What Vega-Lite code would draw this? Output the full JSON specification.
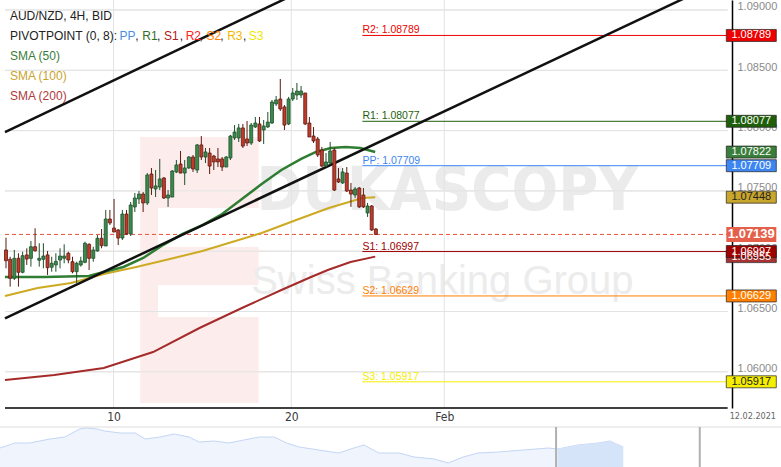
{
  "$schema": "https://vega.github.io/schema/vega-lite/v6.json",
  "width": 781,
  "height": 467,
  "padding": 0,
  "autosize": {"type": "none"},
  "background": "white",
  "config": {"view": {"stroke": null}, "font": "Liberation Sans", "text": {"font": "Liberation Sans"}, "axis": {"grid": false}},
  "resolve": {"scale": {"x": "independent", "y": "independent"}},
  "datasets": {
    "candles": [
      {"i":0,"o":1.07010,"h":1.07112,"l":1.06858,"c":1.06921},
      {"i":1,"o":1.06933,"h":1.06954,"l":1.06706,"c":1.06775},
      {"i":2,"o":1.06775,"h":1.07010,"l":1.06761,"c":1.06941},
      {"i":3,"o":1.06941,"h":1.06983,"l":1.06706,"c":1.06825},
      {"i":4,"o":1.06825,"h":1.06996,"l":1.06817,"c":1.06963},
      {"i":5,"o":1.06969,"h":1.07024,"l":1.06886,"c":1.06935},
      {"i":6,"o":1.06941,"h":1.07085,"l":1.06872,"c":1.07037},
      {"i":7,"o":1.07037,"h":1.07190,"l":1.06996,"c":1.07004},
      {"i":8,"o":1.06925,"h":1.07066,"l":1.06872,"c":1.06941},
      {"i":9,"o":1.06933,"h":1.07066,"l":1.06858,"c":1.06960},
      {"i":10,"o":1.06969,"h":1.07002,"l":1.06803,"c":1.06863},
      {"i":11,"o":1.06867,"h":1.06954,"l":1.06830,"c":1.06900},
      {"i":12,"o":1.06886,"h":1.06983,"l":1.06830,"c":1.06916},
      {"i":13,"o":1.06927,"h":1.07024,"l":1.06858,"c":1.06960},
      {"i":14,"o":1.06941,"h":1.07057,"l":1.06900,"c":1.06960},
      {"i":15,"o":1.06983,"h":1.06996,"l":1.06900,"c":1.06927},
      {"i":16,"o":1.06913,"h":1.06954,"l":1.06817,"c":1.06830},
      {"i":17,"o":1.06830,"h":1.06913,"l":1.06734,"c":1.06900},
      {"i":18,"o":1.06886,"h":1.06954,"l":1.06872,"c":1.06919},
      {"i":19,"o":1.06908,"h":1.07079,"l":1.06900,"c":1.07066},
      {"i":20,"o":1.07057,"h":1.07066,"l":1.06844,"c":1.06941},
      {"i":21,"o":1.06941,"h":1.07037,"l":1.06913,"c":1.07010},
      {"i":22,"o":1.07002,"h":1.07134,"l":1.06996,"c":1.07107},
      {"i":23,"o":1.07107,"h":1.07184,"l":1.07024,"c":1.07046},
      {"i":24,"o":1.07043,"h":1.07342,"l":1.07043,"c":1.07267},
      {"i":25,"o":1.07267,"h":1.07342,"l":1.07217,"c":1.07234},
      {"i":26,"o":1.07192,"h":1.07433,"l":1.07159,"c":1.07159},
      {"i":27,"o":1.07176,"h":1.07184,"l":1.07051,"c":1.07109},
      {"i":28,"o":1.07109,"h":1.07342,"l":1.07093,"c":1.07308},
      {"i":29,"o":1.07308,"h":1.07342,"l":1.07134,"c":1.07143},
      {"i":30,"o":1.07143,"h":1.07408,"l":1.07126,"c":1.07383},
      {"i":31,"o":1.07367,"h":1.07483,"l":1.07325,"c":1.07441},
      {"i":32,"o":1.07433,"h":1.07499,"l":1.07391,"c":1.07474},
      {"i":33,"o":1.07474,"h":1.07491,"l":1.07325,"c":1.07400},
      {"i":34,"o":1.07400,"h":1.07648,"l":1.07383,"c":1.07632},
      {"i":35,"o":1.07640,"h":1.07690,"l":1.07466,"c":1.07524},
      {"i":36,"o":1.07516,"h":1.07673,"l":1.07449,"c":1.07541},
      {"i":37,"o":1.07532,"h":1.07765,"l":1.07507,"c":1.07599},
      {"i":38,"o":1.07607,"h":1.07615,"l":1.07433,"c":1.07441},
      {"i":39,"o":1.07441,"h":1.07507,"l":1.07367,"c":1.07466},
      {"i":40,"o":1.07449,"h":1.07673,"l":1.07449,"c":1.07665},
      {"i":41,"o":1.07657,"h":1.07756,"l":1.07648,"c":1.07715},
      {"i":42,"o":1.07723,"h":1.07831,"l":1.07648,"c":1.07648},
      {"i":43,"o":1.07648,"h":1.07756,"l":1.07549,"c":1.07690},
      {"i":44,"o":1.07690,"h":1.07789,"l":1.07682,"c":1.07781},
      {"i":45,"o":1.07781,"h":1.07798,"l":1.07657,"c":1.07682},
      {"i":46,"o":1.07673,"h":1.07889,"l":1.07648,"c":1.07881},
      {"i":47,"o":1.07881,"h":1.07955,"l":1.07756,"c":1.07781},
      {"i":48,"o":1.07781,"h":1.07856,"l":1.07731,"c":1.07823},
      {"i":49,"o":1.07814,"h":1.07856,"l":1.07640,"c":1.07706},
      {"i":50,"o":1.07789,"h":1.07798,"l":1.07673,"c":1.07740},
      {"i":51,"o":1.07765,"h":1.07856,"l":1.07698,"c":1.07740},
      {"i":52,"o":1.07765,"h":1.07781,"l":1.07665,"c":1.07698},
      {"i":53,"o":1.07698,"h":1.07789,"l":1.07698,"c":1.07781},
      {"i":54,"o":1.07773,"h":1.07964,"l":1.07756,"c":1.07955},
      {"i":55,"o":1.07939,"h":1.08046,"l":1.07922,"c":1.07988},
      {"i":56,"o":1.07939,"h":1.08055,"l":1.07906,"c":1.08022},
      {"i":57,"o":1.08022,"h":1.08055,"l":1.07856,"c":1.07872},
      {"i":58,"o":1.07930,"h":1.08080,"l":1.07872,"c":1.07897},
      {"i":59,"o":1.07897,"h":1.08063,"l":1.07881,"c":1.08046},
      {"i":60,"o":1.08030,"h":1.08113,"l":1.08022,"c":1.08063},
      {"i":61,"o":1.08055,"h":1.08113,"l":1.07906,"c":1.07914},
      {"i":62,"o":1.08005,"h":1.08088,"l":1.07889,"c":1.08038},
      {"i":63,"o":1.08030,"h":1.08154,"l":1.08022,"c":1.08071},
      {"i":64,"o":1.08063,"h":1.08254,"l":1.08055,"c":1.08237},
      {"i":65,"o":1.08221,"h":1.08287,"l":1.08204,"c":1.08254},
      {"i":66,"o":1.08262,"h":1.08428,"l":1.08163,"c":1.08179},
      {"i":67,"o":1.08196,"h":1.08212,"l":1.08005,"c":1.08046},
      {"i":68,"o":1.08055,"h":1.08279,"l":1.08046,"c":1.08262},
      {"i":69,"o":1.08262,"h":1.08353,"l":1.08245,"c":1.08312},
      {"i":70,"o":1.08295,"h":1.08395,"l":1.08254,"c":1.08328},
      {"i":71,"o":1.08295,"h":1.08370,"l":1.08270,"c":1.08328},
      {"i":72,"o":1.08312,"h":1.08312,"l":1.08046,"c":1.08055},
      {"i":73,"o":1.08063,"h":1.08113,"l":1.07947,"c":1.07947},
      {"i":74,"o":1.07955,"h":1.08030,"l":1.07897,"c":1.07914},
      {"i":75,"o":1.07930,"h":1.07947,"l":1.07781,"c":1.07798},
      {"i":76,"o":1.07839,"h":1.07864,"l":1.07698,"c":1.07706},
      {"i":77,"o":1.07706,"h":1.07814,"l":1.07698,"c":1.07740},
      {"i":78,"o":1.07731,"h":1.07906,"l":1.07715,"c":1.07831},
      {"i":79,"o":1.07839,"h":1.07856,"l":1.07499,"c":1.07507},
      {"i":80,"o":1.07599,"h":1.07690,"l":1.07566,"c":1.07574},
      {"i":81,"o":1.07566,"h":1.07690,"l":1.07557,"c":1.07657},
      {"i":82,"o":1.07648,"h":1.07698,"l":1.07491,"c":1.07499},
      {"i":83,"o":1.07507,"h":1.07566,"l":1.07367,"c":1.07474},
      {"i":84,"o":1.07466,"h":1.07532,"l":1.07441,"c":1.07516},
      {"i":85,"o":1.07524,"h":1.07532,"l":1.07358,"c":1.07367},
      {"i":86,"o":1.07466,"h":1.07524,"l":1.07358,"c":1.07367},
      {"i":87,"o":1.07317,"h":1.07400,"l":1.07284,"c":1.07375},
      {"i":88,"o":1.07375,"h":1.07383,"l":1.07168,"c":1.07176},
      {"i":89,"o":1.07184,"h":1.07192,"l":1.07134,"c":1.07139}
    ],
    "sma50": [
      {"i":-0.24,"v":1.06786},{"i":9.26,"v":1.06786},{"i":19.95,"v":1.06794},{"i":23.52,"v":1.06828},
      {"i":28.27,"v":1.06869},{"i":33.02,"v":1.06944},{"i":37.77,"v":1.07051},{"i":42.52,"v":1.07143},
      {"i":47.27,"v":1.07217},{"i":52.02,"v":1.07308},{"i":56.77,"v":1.07433},{"i":61.52,"v":1.07557},
      {"i":66.27,"v":1.07673},{"i":71.02,"v":1.07765},{"i":74.58,"v":1.07823},{"i":78.15,"v":1.07856},
      {"i":81.71,"v":1.07864},{"i":85.27,"v":1.07856},{"i":88.84,"v":1.07822}
    ],
    "sma100": [
      {"i":-0.24,"v":1.06629},{"i":7.6,"v":1.06695},{"i":15.68,"v":1.06736},{"i":23.52,"v":1.06811},
      {"i":31.35,"v":1.06869},{"i":39.43,"v":1.06935},{"i":47.27,"v":1.07002},{"i":54.39,"v":1.07076},
      {"i":61.52,"v":1.07151},{"i":69.83,"v":1.07259},{"i":77.67,"v":1.07358},{"i":85.75,"v":1.07441},
      {"i":88.84,"v":1.07448}
    ],
    "sma200": [
      {"i":-0.24,"v":1.05932},{"i":11.64,"v":1.05974},{"i":23.52,"v":1.06032},{"i":35.39,"v":1.06164},
      {"i":46.56,"v":1.06363},{"i":56.77,"v":1.06529},{"i":66.27,"v":1.06678},{"i":73.4,"v":1.06786},
      {"i":77.43,"v":1.06844},{"i":82.9,"v":1.06910},{"i":88.84,"v":1.06955}
    ],
    "channel": [
      {"i":-0.2375,"p":1.079875,"i2":71.02,"p2":1.091557},
      {"i":-0.2375,"p":1.064436,"i2":173.63,"p2":1.092662}
    ],
    "pivots": [
      {"name":"R2","price":1.08789},{"name":"R1","price":1.08077},{"name":"PP","price":1.07709},
      {"name":"S1","price":1.06997},{"name":"S2","price":1.06629},{"name":"S3","price":1.05917}
    ],
    "levels": [
      {"name":"R2","price":1.08789},{"name":"R1","price":1.08077},{"name":"SMA50","price":1.07822},
      {"name":"PP","price":1.07709},{"name":"SMA100","price":1.07448},{"name":"SMA200","price":1.06955},
      {"name":"S1","price":1.06997},{"name":"S2","price":1.06629},{"name":"S3","price":1.05917}
    ],
    "hgrid": [{"p":1.06},{"p":1.065},{"p":1.07},{"p":1.075},{"p":1.08},{"p":1.085},{"p":1.09}],
    "vgrid": [{"i":25.89},{"i":68.65},{"i":105.46}],
    "nav": [
      {"t":0,"v":19},{"t":1.9,"v":24},{"t":3.8,"v":24},{"t":6.4,"v":28},{"t":8.3,"v":30},{"t":10.2,"v":38},
      {"t":11.1,"v":39},{"t":12.4,"v":38},{"t":13.4,"v":36},{"t":15.4,"v":34},{"t":17.3,"v":34},{"t":18.6,"v":28},
      {"t":20.5,"v":30},{"t":22.3,"v":33},{"t":24.2,"v":30},{"t":25.5,"v":25},{"t":27.4,"v":26},{"t":29.3,"v":24},
      {"t":31.2,"v":27},{"t":33.2,"v":30},{"t":35.1,"v":30},{"t":36.7,"v":24},{"t":38.3,"v":20},{"t":40.8,"v":17},
      {"t":43.4,"v":14},{"t":45.3,"v":19},{"t":46.6,"v":22},{"t":48.5,"v":14},{"t":51.1,"v":14},{"t":53,"v":10},
      {"t":55.6,"v":8},{"t":57.4,"v":4},{"t":59.3,"v":10},{"t":61.2,"v":14},{"t":63.8,"v":15},{"t":67,"v":17},
      {"t":70.2,"v":19},{"t":71.4,"v":18},{"t":74,"v":22},{"t":76.6,"v":24},{"t":78.1,"v":26},{"t":79.8,"v":20}
    ]
  },
  "layer": [
    {
      "layer": [
        {
          "data": {"name": "nav"},
          "mark": {"type": "area", "color": "#e9f0fc", "line": {"color": "#c3d6f5", "strokeWidth": 1}},
          "encoding": {
            "x": {"field": "t", "type": "quantitative", "scale": {"domain": [0, 100], "nice": false, "zero": false}, "axis": null},
            "y": {"field": "v", "type": "quantitative", "scale": {"domain": [0, 40], "range": [467, 427], "nice": false, "zero": false}, "axis": null}
          }
        },
        {
          "data": {"name": "nav"},
          "transform": [{"filter": "datum.t >= 71.4"}],
          "mark": {"type": "area", "color": "#d6e4fa"},
          "encoding": {"x": {"field": "t", "type": "quantitative", "axis": null}, "y": {"field": "v", "type": "quantitative", "axis": null}}
        },
        {
          "data": {"values": [{}]},
          "mark": {"type": "rule", "color": "#dddddd", "strokeWidth": 1},
          "encoding": {"y": {"datum": 40, "axis": null}, "x": {"datum": 0, "axis": null}, "x2": {"datum": 100}}
        },
        {
          "data": {"values": [{}]},
          "mark": {"type": "rule", "color": "#b0b0b0", "strokeWidth": 2},
          "encoding": {"x": {"datum": 71.2, "axis": null}, "y": {"datum": 0, "axis": null}, "y2": {"datum": 40}}
        },
        {
          "data": {"values": [{}]},
          "mark": {"type": "rule", "color": "#b0b0b0", "strokeWidth": 2},
          "encoding": {"x": {"datum": 89.6, "axis": null}, "y": {"datum": 0, "axis": null}, "y2": {"datum": 40}}
        }
      ]
    },
    {
      "layer": [
        {
          "data": {"name": "hgrid"},
          "mark": {"type": "rule", "color": "#e3e3e3", "strokeWidth": 1},
          "encoding": {
            "y": {"field": "p", "type": "quantitative", "title": null,
                  "scale": {"domain": [1.056998, 1.090829], "range": [408, 0], "nice": false, "zero": false},
                  "axis": {"orient": "right", "offset": -49, "values": [1.06,1.065,1.07,1.075,1.08,1.085,1.09], "format": ".5f",
                           "grid": false, "ticks": false, "domain": true, "domainColor": "#000000", "domainWidth": 1.5,
                           "labelColor": "#8a8a8a", "labelFontSize": 11, "labelPadding": 5, "labelOffset": -3, "labelFont": "Liberation Sans", "title": null}},
            "x": {"datum": -0.2375, "type": "quantitative", "title": null,
                  "scale": {"domain": [-0.2375, 185.27], "nice": false, "zero": false},
                  "axis": {"orient": "bottom", "offset": -59, "values": [25.89, 68.65, 105.46, 179.57],
                           "labelExpr": "datum.value < 30 ? '10' : datum.value < 80 ? '20' : datum.value < 120 ? 'Feb' : '12.02.2021'",
                           "grid": false, "ticks": false, "domain": false, "labelColor": {"condition": {"test": "datum.value > 150", "value": "#666666"}, "value": "#3a3a3a"}, "labelFlush": false,
                           "labelFontSize": {"condition": {"test": "datum.value > 150", "value": 9}, "value": 12},
                           "labelFont": "DejaVu Sans Condensed", "labelPadding": 3, "title": null}},
            "x2": {"datum": 173.63}
          }
        },
        {
          "data": {"values": [{}]},
          "mark": {"type": "rect", "color": "#fcedec"},
          "encoding": {"x": {"datum": 32.3}, "x2": {"datum": 60.8}, "y": {"datum": 1.07947}, "y2": {"datum": 1.07358}}
        },
        {
          "data": {"values": [{}]},
          "mark": {"type": "rect", "color": "#fcedec"},
          "encoding": {"x": {"datum": 32.3}, "x2": {"datum": 36.58}, "y": {"datum": 1.07358}, "y2": {"datum": 1.05741}}
        },
        {
          "data": {"values": [{}]},
          "mark": {"type": "rect", "color": "#fcedec"},
          "encoding": {"x": {"datum": 36.58}, "x2": {"datum": 60.8}, "y": {"datum": 1.07035}, "y2": {"datum": 1.06720}}
        },
        {
          "data": {"values": [{}]},
          "mark": {"type": "rect", "color": "#fcedec"},
          "encoding": {"x": {"datum": 36.58}, "x2": {"datum": 60.8}, "y": {"datum": 1.06454}, "y2": {"datum": 1.05741}}
        },
        {
          "data": {"values": [{}]},
          "mark": {"type": "text", "fontSize": 61, "fontWeight": "bold", "font": "DejaVu Sans Condensed", "color": "#ebebeb", "align": "center", "baseline": "middle"},
          "encoding": {"x": {"datum": 106.2}, "y": {"datum": 1.07491}, "text": {"value": "DUKASCOPY"}}
        },
        {
          "data": {"values": [{}]},
          "mark": {"type": "text", "fontSize": 40, "font": "Liberation Sans", "color": "#ececec", "align": "center", "baseline": "middle"},
          "encoding": {"x": {"datum": 105}, "y": {"datum": 1.06745}, "text": {"value": "Swiss Banking Group"}}
        },
        {
          "data": {"name": "hgrid"},
          "mark": {"type": "rule", "color": "#e3e3e3", "strokeWidth": 1},
          "encoding": {"y": {"field": "p", "type": "quantitative"}, "x": {"datum": -0.2375}, "x2": {"datum": 173.63}}
        },
        {
          "data": {"name": "vgrid"},
          "mark": {"type": "rule", "color": "#e3e3e3", "strokeWidth": 1},
          "encoding": {"x": {"field": "i", "type": "quantitative"}, "y": {"datum": 1.090829}, "y2": {"datum": 1.056998}}
        },
        {
          "data": {"name": "pivots"},
          "mark": {"type": "rule", "strokeWidth": 1},
          "encoding": {
            "y": {"field": "price", "type": "quantitative"},
            "x": {"datum": 85.75}, "x2": {"datum": 173.63},
            "color": {"field": "name", "type": "nominal", "legend": null,
                      "scale": {"domain": ["R2","R1","SMA50","PP","SMA100","Last","S1","SMA200","S2","S3"],
                                "range": ["#ee0000","#1f5f0c","#3b7d3b","#3d86f2","#c9a62c","#e5604a","#9e0000","#a83232","#ff8000","#f5ee00"]}}
          }
        },
        {
          "data": {"name": "pivots"},
          "transform": [{"calculate": "datum.name + ': ' + format(datum.price, '.5f')", "as": "label"}],
          "mark": {"type": "text", "align": "left", "baseline": "alphabetic", "dy": -2, "fontSize": 10.5},
          "encoding": {
            "y": {"field": "price", "type": "quantitative"},
            "x": {"datum": 85.75},
            "text": {"field": "label"},
            "color": {"field": "name", "type": "nominal", "legend": null}
          }
        },
        {
          "data": {"values": [{}]},
          "mark": {"type": "rule", "color": "#e5533d", "strokeWidth": 1, "strokeDash": [4, 3]},
          "encoding": {"y": {"datum": 1.07139}, "x": {"datum": -0.2375}, "x2": {"datum": 173.63}}
        },
        {
          "data": {"name": "sma200"},
          "mark": {"type": "line", "color": "#a52a2a", "strokeWidth": 2},
          "encoding": {"x": {"field": "i", "type": "quantitative"}, "y": {"field": "v", "type": "quantitative"}}
        },
        {
          "data": {"name": "sma100"},
          "mark": {"type": "line", "color": "#cdaa22", "strokeWidth": 2},
          "encoding": {"x": {"field": "i", "type": "quantitative"}, "y": {"field": "v", "type": "quantitative"}}
        },
        {
          "data": {"name": "sma50"},
          "mark": {"type": "line", "color": "#2f7d32", "strokeWidth": 2.5},
          "encoding": {"x": {"field": "i", "type": "quantitative"}, "y": {"field": "v", "type": "quantitative"}}
        },
        {
          "data": {"name": "channel"},
          "mark": {"type": "rule", "color": "#111111", "strokeWidth": 2.5, "clip": true},
          "encoding": {
            "x": {"field": "i", "type": "quantitative"}, "y": {"field": "p", "type": "quantitative"},
            "x2": {"field": "i2"}, "y2": {"field": "p2"}
          }
        },
        {
          "data": {"name": "candles"},
          "mark": {"type": "rule", "strokeWidth": 1},
          "encoding": {
            "x": {"field": "i", "type": "quantitative"},
            "y": {"field": "l", "type": "quantitative"}, "y2": {"field": "h"},
            "color": {"condition": {"test": "datum.c >= datum.o", "value": "#1f4f2b"}, "value": "#5c1a10"}
          }
        },
        {
          "data": {"name": "candles"},
          "mark": {"type": "bar", "width": 3, "strokeWidth": 0.8},
          "encoding": {
            "x": {"field": "i", "type": "quantitative"},
            "y": {"field": "o", "type": "quantitative"}, "y2": {"field": "c"},
            "fill": {"condition": {"test": "datum.c >= datum.o", "value": "#3a8a4c"}, "value": "#c23b2a"},
            "stroke": {"condition": {"test": "datum.c >= datum.o", "value": "#1f4f2b"}, "value": "#5c1a10"}
          }
        },
        {
          "data": {"values": [{}]},
          "mark": {"type": "text", "align": "left", "baseline": "middle", "fontSize": 12, "color": "#222222"},
          "encoding": {"x": {"datum": 0.95}, "y": {"datum": 1.08953}, "text": {"value": "AUD/NZD, 4H, BID"}}
        },
        {
          "data": {"values": [{}]},
          "mark": {"type": "text", "align": "left", "baseline": "middle", "fontSize": 12, "color": "#222222"},
          "encoding": {"x": {"datum": 0.95}, "y": {"datum": 1.08787}, "text": {"value": "PIVOTPOINT (0, 8):"}}
        },
        {"data": {"values": [{}]}, "mark": {"type": "text", "align": "left", "baseline": "middle", "fontSize": 12, "color": "#4a90e2"},
         "encoding": {"x": {"datum": 27.32}, "y": {"datum": 1.08787}, "text": {"value": "PP"}}},
        {"data": {"values": [{}]}, "mark": {"type": "text", "align": "left", "baseline": "middle", "fontSize": 12, "color": "#222222"},
         "encoding": {"x": {"datum": 31.12}, "y": {"datum": 1.08787}, "text": {"value": ","}}},
        {"data": {"values": [{}]}, "mark": {"type": "text", "align": "left", "baseline": "middle", "fontSize": 12, "color": "#2f6f1f"},
         "encoding": {"x": {"datum": 32.78}, "y": {"datum": 1.08787}, "text": {"value": "R1"}}},
        {"data": {"values": [{}]}, "mark": {"type": "text", "align": "left", "baseline": "middle", "fontSize": 12, "color": "#222222"},
         "encoding": {"x": {"datum": 36.34}, "y": {"datum": 1.08787}, "text": {"value": ","}}},
        {"data": {"values": [{}]}, "mark": {"type": "text", "align": "left", "baseline": "middle", "fontSize": 12, "color": "#b02020"},
         "encoding": {"x": {"datum": 38.0}, "y": {"datum": 1.08787}, "text": {"value": "S1"}}},
        {"data": {"values": [{}]}, "mark": {"type": "text", "align": "left", "baseline": "middle", "fontSize": 12, "color": "#222222"},
         "encoding": {"x": {"datum": 41.8}, "y": {"datum": 1.08787}, "text": {"value": ","}}},
        {"data": {"values": [{}]}, "mark": {"type": "text", "align": "left", "baseline": "middle", "fontSize": 12, "color": "#ff2020"},
         "encoding": {"x": {"datum": 43.23}, "y": {"datum": 1.08787}, "text": {"value": "R2"}}},
        {"data": {"values": [{}]}, "mark": {"type": "text", "align": "left", "baseline": "middle", "fontSize": 12, "color": "#222222"},
         "encoding": {"x": {"datum": 46.56}, "y": {"datum": 1.08787}, "text": {"value": ","}}},
        {"data": {"values": [{}]}, "mark": {"type": "text", "align": "left", "baseline": "middle", "fontSize": 12, "color": "#ff8000"},
         "encoding": {"x": {"datum": 48.22}, "y": {"datum": 1.08787}, "text": {"value": "S2"}}},
        {"data": {"values": [{}]}, "mark": {"type": "text", "align": "left", "baseline": "middle", "fontSize": 12, "color": "#222222"},
         "encoding": {"x": {"datum": 51.54}, "y": {"datum": 1.08787}, "text": {"value": ","}}},
        {"data": {"values": [{}]}, "mark": {"type": "text", "align": "left", "baseline": "middle", "fontSize": 12, "color": "#f5b800"},
         "encoding": {"x": {"datum": 53.21}, "y": {"datum": 1.08787}, "text": {"value": "R3"}}},
        {"data": {"values": [{}]}, "mark": {"type": "text", "align": "left", "baseline": "middle", "fontSize": 12, "color": "#222222"},
         "encoding": {"x": {"datum": 57.0}, "y": {"datum": 1.08787}, "text": {"value": ","}}},
        {"data": {"values": [{}]}, "mark": {"type": "text", "align": "left", "baseline": "middle", "fontSize": 12, "color": "#f2e600"},
         "encoding": {"x": {"datum": 58.43}, "y": {"datum": 1.08787}, "text": {"value": "S3"}}},
        {"data": {"values": [{}]}, "mark": {"type": "text", "align": "left", "baseline": "middle", "fontSize": 12, "color": "#3a7d3a"},
         "encoding": {"x": {"datum": 0.95}, "y": {"datum": 1.08621}, "text": {"value": "SMA (50)"}}},
        {"data": {"values": [{}]}, "mark": {"type": "text", "align": "left", "baseline": "middle", "fontSize": 12, "color": "#c9a42a"},
         "encoding": {"x": {"datum": 0.95}, "y": {"datum": 1.08455}, "text": {"value": "SMA (100)"}}},
        {"data": {"values": [{}]}, "mark": {"type": "text", "align": "left", "baseline": "middle", "fontSize": 12, "color": "#b03a3a"},
         "encoding": {"x": {"datum": 0.95}, "y": {"datum": 1.08289}, "text": {"value": "SMA (200)"}}},
        {
          "data": {"values": [{}]},
          "mark": {"type": "rule", "color": "#000000", "strokeWidth": 1.5},
          "encoding": {"y": {"datum": 1.056998}, "x": {"datum": -0.2375}, "x2": {"datum": 173.63}}
        },
        {
          "data": {"name": "levels"},
          "mark": {"type": "tick", "orient": "horizontal", "thickness": 12, "size": 50, "stroke": "#222222", "strokeWidth": 1, "strokeOpacity": 0.7, "opacity": 1},
          "encoding": {
            "y": {"field": "price", "type": "quantitative"},
            "x": {"datum": 179.33},
            "color": {"field": "name", "type": "nominal", "legend": null}
          }
        },
        {
          "data": {"name": "levels"},
          "mark": {"type": "text", "align": "center", "baseline": "middle", "fontSize": 11},
          "encoding": {
            "y": {"field": "price", "type": "quantitative"},
            "x": {"datum": 179.33},
            "text": {"field": "price", "type": "quantitative", "format": ".5f"},
            "color": {"condition": {"test": "datum.name == 'SMA100' || datum.name == 'S3'", "value": "#222222"}, "value": "#ffffff"}
          }
        },
        {
          "data": {"values": [{}]},
          "mark": {"type": "tick", "orient": "horizontal", "thickness": 15, "size": 50, "color": "#e5604a", "opacity": 1},
          "encoding": {"y": {"datum": 1.07139}, "x": {"datum": 179.33}}
        },
        {
          "data": {"values": [{}]},
          "mark": {"type": "text", "align": "center", "baseline": "middle", "fontSize": 13, "fontWeight": "bold", "color": "#ffffff"},
          "encoding": {"y": {"datum": 1.07139}, "x": {"datum": 179.33}, "text": {"value": "1.07139"}}
        }
      ]
    }
  ]
}
